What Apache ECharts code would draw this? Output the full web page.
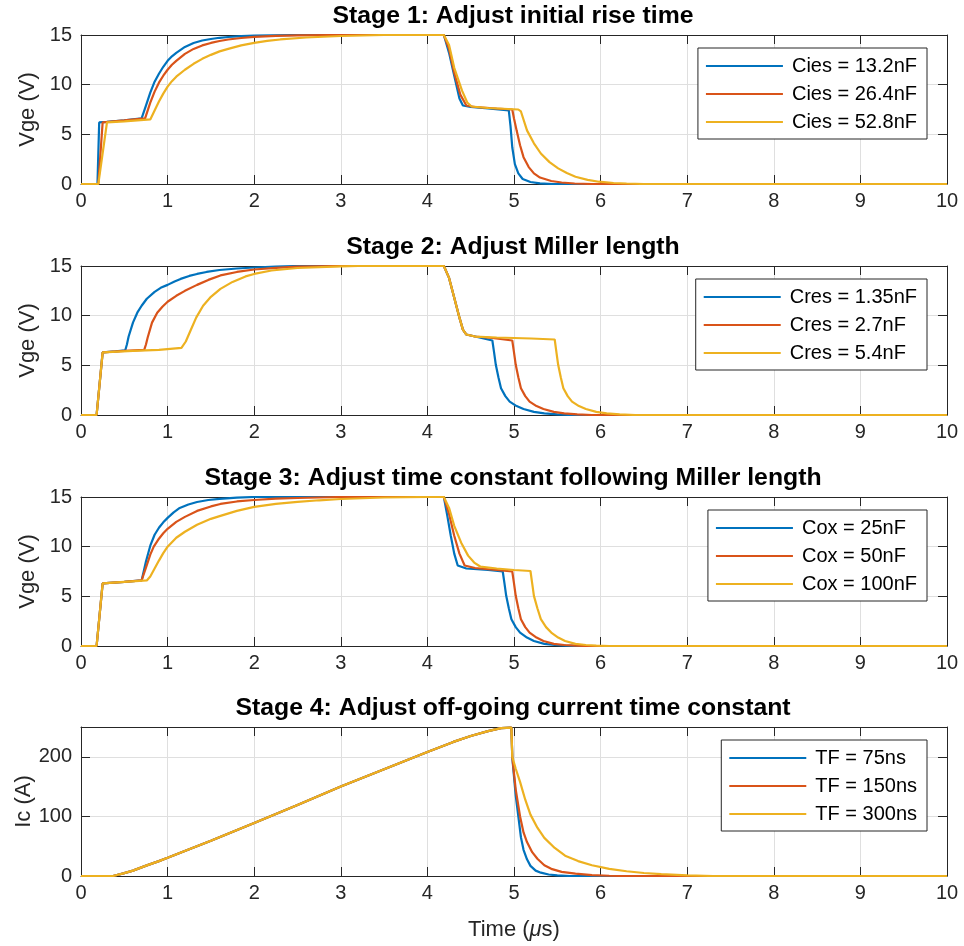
<!DOCTYPE html>
<html><head><meta charset="utf-8">
<script src="https://cdn.jsdelivr.net/npm/echarts@6/dist/echarts.min.js"></script>
<style>html,body{margin:0;padding:0;background:#fff}#c{width:964px;height:946px}</style>
</head><body><div id="c"></div>
<script>
// ---------- text ----------
const titles = [
  'Stage 1: Adjust initial rise time',
  'Stage 2: Adjust Miller length',
  'Stage 3: Adjust time constant following Miller length',
  'Stage 4: Adjust off-going current time constant'
];
const yNames = ['Vge (V)', 'Vge (V)', 'Vge (V)', 'Ic (A)'];
const xName = 'Time ({it|\u03bc}s)';
const legendNames = [
  ['Cies = 13.2nF', 'Cies = 26.4nF', 'Cies = 52.8nF'],
  ['Cres = 1.35nF', 'Cres = 2.7nF', 'Cres = 5.4nF'],
  ['Cox = 25nF', 'Cox = 50nF', 'Cox = 100nF'],
  ['TF = 75ns', 'TF = 150ns', 'TF = 300ns']
];
const yMax = [15, 15, 15, 250];
const yStep = [5, 5, 5, 100];

// ---------- data: [time (us), value] ----------
const s1Blue = [[0,0],[0.19,0],[0.21,6.2],[0.3,6.25],[0.5,6.4],[0.70,6.6],[0.75,7.9],[0.8,9.2],[0.85,10.3],[0.9,11.1],[0.95,11.8],[1.0,12.4],[1.05,12.85],[1.1,13.2],[1.2,13.8],[1.3,14.2],[1.4,14.45],[1.5,14.6],[1.6,14.72],[1.7,14.8],[1.85,14.88],[2.0,14.93],[2.5,15],[4.19,15],[4.25,13.2],[4.31,10.9],[4.37,8.6],[4.41,7.9],[4.5,7.75],[4.7,7.6],[4.94,7.4],[4.96,5.8],[4.98,3.7],[5.01,2.0],[5.05,1.07],[5.1,0.5],[5.19,0.2],[5.3,0.07],[5.45,0],[10,0]];
const s1Red = [[0,0],[0.2,0],[0.25,6.2],[0.5,6.4],[0.74,6.6],[0.8,8.2],[0.85,9.3],[0.9,10.2],[0.95,10.9],[1.0,11.5],[1.05,12.0],[1.1,12.4],[1.2,13.1],[1.3,13.6],[1.4,13.95],[1.5,14.2],[1.6,14.4],[1.7,14.55],[1.85,14.7],[2.0,14.82],[2.25,14.92],[2.5,14.96],[3.0,15],[4.19,15],[4.25,13.6],[4.31,11.2],[4.38,9.0],[4.45,7.9],[4.55,7.75],[4.8,7.6],[4.98,7.5],[5.0,6.6],[5.03,5.4],[5.07,3.9],[5.11,2.7],[5.17,1.7],[5.23,1.07],[5.3,0.65],[5.43,0.3],[5.55,0.15],[5.7,0.05],[5.9,0],[10,0]];
const s1Yellow = [[0,0],[0.2,0],[0.3,6.2],[0.5,6.3],[0.8,6.5],[0.85,7.4],[0.9,8.3],[0.95,9.1],[1.0,9.8],[1.05,10.35],[1.1,10.8],[1.2,11.5],[1.3,12.1],[1.4,12.6],[1.5,13.0],[1.6,13.35],[1.7,13.6],[1.85,13.95],[2.0,14.2],[2.15,14.4],[2.3,14.55],[2.6,14.75],[3.0,14.9],[3.5,15],[4.19,15],[4.25,14.0],[4.31,11.7],[4.4,9.4],[4.46,8.2],[4.51,7.8],[4.7,7.65],[5.05,7.5],[5.08,7.3],[5.15,5.4],[5.23,4.1],[5.31,3.07],[5.41,2.2],[5.51,1.57],[5.61,1.1],[5.71,0.73],[5.85,0.42],[5.98,0.23],[6.15,0.1],[6.3,0.05],[6.5,0],[10,0]];

const s2Blue = [[0,0],[0.18,0],[0.25,6.3],[0.4,6.4],[0.51,6.5],[0.53,7.1],[0.55,7.9],[0.6,9.3],[0.65,10.3],[0.7,11.0],[0.76,11.7],[0.85,12.4],[0.92,12.8],[1.0,13.1],[1.08,13.45],[1.15,13.7],[1.25,14.0],[1.34,14.2],[1.45,14.4],[1.6,14.6],[1.8,14.75],[2.0,14.85],[2.25,14.95],[2.5,15],[4.19,15],[4.25,13.8],[4.31,11.8],[4.37,9.8],[4.41,8.6],[4.45,8.1],[4.55,7.9],[4.75,7.5],[4.77,6.3],[4.79,5.05],[4.82,3.8],[4.85,2.7],[4.9,1.9],[4.95,1.35],[5.03,0.9],[5.11,0.6],[5.23,0.32],[5.35,0.17],[5.5,0.06],[5.65,0],[10,0]];
const s2Red = [[0,0],[0.18,0],[0.25,6.3],[0.5,6.45],[0.73,6.55],[0.75,7.1],[0.77,7.8],[0.82,9.3],[0.88,10.3],[0.94,10.9],[1.0,11.4],[1.1,12.0],[1.2,12.5],[1.34,13.1],[1.47,13.6],[1.61,14.05],[1.8,14.4],[2.0,14.65],[2.25,14.82],[2.5,14.93],[3.0,15],[4.19,15],[4.25,13.8],[4.31,11.8],[4.37,9.8],[4.41,8.6],[4.45,8.1],[4.55,7.9],[4.75,7.75],[4.98,7.5],[5.0,6.3],[5.02,5.05],[5.05,3.8],[5.08,2.7],[5.13,1.9],[5.18,1.35],[5.26,0.9],[5.34,0.6],[5.46,0.32],[5.58,0.17],[5.73,0.06],[5.9,0],[10,0]];
const s2Yellow = [[0,0],[0.18,0],[0.25,6.3],[0.6,6.45],[0.9,6.55],[1.16,6.75],[1.21,7.4],[1.26,8.4],[1.33,9.8],[1.41,11.0],[1.5,11.9],[1.61,12.7],[1.75,13.4],[1.9,13.95],[2.0,14.2],[2.2,14.55],[2.5,14.8],[3.0,14.97],[3.2,15],[4.19,15],[4.25,13.8],[4.31,11.8],[4.37,9.8],[4.41,8.6],[4.45,8.1],[4.55,7.9],[4.8,7.8],[5.2,7.7],[5.47,7.6],[5.49,6.3],[5.51,5.05],[5.54,3.8],[5.57,2.7],[5.62,1.9],[5.67,1.35],[5.75,0.9],[5.83,0.6],[5.95,0.32],[6.07,0.17],[6.22,0.06],[6.4,0],[10,0]];

const s3Blue = [[0,0],[0.18,0],[0.25,6.3],[0.5,6.45],[0.70,6.6],[0.75,8.5],[0.8,10.1],[0.85,11.2],[0.9,11.9],[0.95,12.45],[1.0,12.9],[1.07,13.45],[1.14,13.9],[1.24,14.25],[1.34,14.5],[1.47,14.7],[1.6,14.82],[1.8,14.93],[2.0,15],[4.19,15],[4.23,13.1],[4.27,11.1],[4.31,9.3],[4.35,8.1],[4.45,7.8],[4.7,7.65],[4.87,7.5],[4.89,6.3],[4.91,5.05],[4.94,3.8],[4.97,2.7],[5.02,1.9],[5.07,1.35],[5.15,0.85],[5.23,0.5],[5.35,0.22],[5.47,0.1],[5.6,0.03],[5.75,0],[10,0]];
const s3Red = [[0,0],[0.18,0],[0.25,6.3],[0.5,6.45],[0.70,6.6],[0.75,7.9],[0.8,9.2],[0.84,10.0],[0.9,10.8],[0.95,11.35],[1.0,11.8],[1.1,12.5],[1.2,13.0],[1.34,13.6],[1.5,14.05],[1.61,14.3],[1.8,14.55],[2.0,14.7],[2.25,14.83],[2.5,14.9],[3.0,15],[4.19,15],[4.25,13.3],[4.31,11.1],[4.37,9.3],[4.43,8.1],[4.55,7.85],[4.8,7.65],[4.98,7.5],[5.0,6.3],[5.02,5.05],[5.05,3.8],[5.08,2.7],[5.13,1.9],[5.18,1.35],[5.26,0.85],[5.34,0.5],[5.46,0.22],[5.58,0.1],[5.72,0.03],[5.85,0],[10,0]];
const s3Yellow = [[0,0],[0.18,0],[0.25,6.3],[0.5,6.45],[0.76,6.6],[0.8,7.0],[0.85,7.8],[0.9,8.6],[0.95,9.35],[1.0,10.0],[1.1,10.9],[1.2,11.5],[1.34,12.2],[1.5,12.8],[1.61,13.1],[1.8,13.6],[2.0,14.0],[2.25,14.3],[2.5,14.5],[2.75,14.67],[3.0,14.8],[3.5,14.95],[4.0,15],[4.19,15],[4.25,13.9],[4.31,12.1],[4.39,10.4],[4.47,9.1],[4.54,8.4],[4.61,8.0],[4.8,7.8],[5.0,7.65],[5.19,7.55],[5.21,6.3],[5.23,5.05],[5.27,3.8],[5.31,2.7],[5.37,1.9],[5.43,1.35],[5.51,0.85],[5.59,0.5],[5.71,0.22],[5.83,0.1],[5.95,0.03],[6.1,0],[10,0]];

const s4Blue = [[0,0],[0.37,0],[0.49,4.4],[0.6,9],[0.76,17.8],[0.9,25],[1.0,30.6],[1.5,59],[2.0,89],[2.5,119],[3.0,150],[3.5,179],[4.0,208],[4.3,225],[4.5,235],[4.7,243],[4.85,248],[4.97,249],[4.98,200],[4.99,183],[5.02,135],[5.05,100],[5.08,65],[5.11,44],[5.15,28],[5.19,17],[5.25,9],[5.31,5.6],[5.4,2.5],[5.5,1],[5.65,0],[10,0]];
const s4Red = [[0,0],[0.37,0],[0.49,4.4],[0.6,9],[0.76,17.8],[0.9,25],[1.0,30.6],[1.5,59],[2.0,89],[2.5,119],[3.0,150],[3.5,179],[4.0,208],[4.3,225],[4.5,235],[4.7,243],[4.85,248],[4.97,249],[4.98,200],[5.02,145],[5.07,100],[5.11,73],[5.15,57],[5.21,40],[5.27,29],[5.35,18],[5.43,12],[5.55,7],[5.71,4],[5.9,1.5],[6.1,0.4],[6.3,0],[10,0]];
const s4Yellow = [[0,0],[0.37,0],[0.49,4.4],[0.6,9],[0.76,17.8],[0.9,25],[1.0,30.6],[1.5,59],[2.0,89],[2.5,119],[3.0,150],[3.5,179],[4.0,208],[4.3,225],[4.5,235],[4.7,243],[4.85,248],[4.97,249],[4.98,200],[5.02,180],[5.07,158],[5.13,128],[5.19,103],[5.27,81],[5.35,64],[5.47,47],[5.59,34],[5.74,25],[5.9,18],[6.1,12],[6.3,8],[6.5,5],[6.7,3],[7.0,1],[7.3,0],[10,0]];

const stageData = [
  [s1Blue, s1Red, s1Yellow],
  [s2Blue, s2Red, s2Yellow],
  [s3Blue, s3Red, s3Yellow],
  [s4Blue, s4Red, s4Yellow]
];

// ---------- style ----------
const colors = ['#0072BD', '#D95319', '#EDB120'];
const FONT = '"Liberation Sans", Arial, Helvetica, sans-serif';
const AX = '#262626';
const GRIDC = '#dfdfdf';
const gridTops = [35, 266, 497, 727];
const gridH = 149;
const yNameGaps = [42, 42, 42, 46];

const grid = [], xAxis = [], yAxis = [], title = [], legend = [], series = [];
for (let i = 0; i < 4; i++) {
  grid.push({left: 81, right: 17, top: gridTops[i], height: gridH, show: false,
    containLabel: false, outerBoundsMode: 'none'});
  title.push({
    text: titles[i], left: 513, top: gridTops[i] - 31, textAlign: 'center', padding: 0,
    textStyle: {fontFamily: FONT, fontSize: 24.8, fontWeight: 'bold', color: '#000'}
  });
  const last = i === 3;
  xAxis.push({
    type: 'value', gridIndex: i, min: 0, max: 10, interval: 1, position: 'bottom',
    name: last ? xName : '', nameLocation: 'middle', nameGap: 43, nameMoveOverlap: false,
    nameTextStyle: {fontFamily: FONT, fontSize: 22, color: AX,
      rich: {it: {fontFamily: FONT, fontSize: 22, fontStyle: 'italic', color: AX}}},
    axisLine: {show: true, onZero: false, lineStyle: {color: AX, width: 1}},
    axisTick: {show: true, inside: true, length: 9, lineStyle: {color: AX}},
    axisLabel: {show: true, margin: 7, fontFamily: FONT, fontSize: 20, color: AX},
    splitLine: {show: true, lineStyle: {color: GRIDC, width: 1}}
  });
  xAxis.push({
    type: 'value', gridIndex: i, min: 0, max: 10, interval: 1, position: 'top',
    axisLine: {show: true, onZero: false, lineStyle: {color: AX, width: 1}},
    axisTick: {show: true, inside: true, length: 9, lineStyle: {color: AX}},
    axisLabel: {show: false}, splitLine: {show: false}
  });
  yAxis.push({
    type: 'value', gridIndex: i, min: 0, max: yMax[i], interval: yStep[i], position: 'left',
    name: yNames[i], nameLocation: 'middle', nameGap: yNameGaps[i], nameRotate: 90, nameMoveOverlap: false,
    nameTextStyle: {fontFamily: FONT, fontSize: 22, color: AX},
    axisLine: {show: true, onZero: false, lineStyle: {color: AX, width: 1}},
    axisTick: {show: true, inside: true, length: 9, lineStyle: {color: AX}},
    axisLabel: {show: true, margin: 9, fontFamily: FONT, fontSize: 20, color: AX, showMaxLabel: !last},
    splitLine: {show: true, lineStyle: {color: GRIDC, width: 1}}
  });
  yAxis.push({
    type: 'value', gridIndex: i, min: 0, max: yMax[i], interval: yStep[i], position: 'right',
    axisLine: {show: true, onZero: false, lineStyle: {color: AX, width: 1}},
    axisTick: {show: true, inside: true, length: 9, lineStyle: {color: AX}},
    axisLabel: {show: false}, splitLine: {show: false}
  });
  legend.push({
    data: legendNames[i], orient: 'vertical', right: 37, top: gridTops[i] + 13,
    icon: 'rect', itemWidth: 77, itemHeight: 2, itemGap: 8,
    padding: [8, 10, 7, 8],
    backgroundColor: '#fff', borderColor: AX, borderWidth: 1,
    textStyle: {fontFamily: FONT, fontSize: 20, color: '#000', padding: [0, 0, 0, 4]},
    selectedMode: false
  });
  for (let k = 0; k < 3; k++) {
    series.push({
      type: 'line', name: legendNames[i][k], xAxisIndex: 2 * i, yAxisIndex: 2 * i,
      data: stageData[i][k], symbol: 'none', showSymbol: false, smooth: false,
      lineStyle: {color: colors[k], width: 2.2}, itemStyle: {color: colors[k]},
      z: 3 + k, clip: true
    });
  }
}

const chart = echarts.init(document.getElementById('c'), null, {renderer: 'canvas'});
chart.setOption({
  animation: false, backgroundColor: '#fff',
  grid, xAxis, yAxis, title, legend, series
});
</script>
</body></html>
